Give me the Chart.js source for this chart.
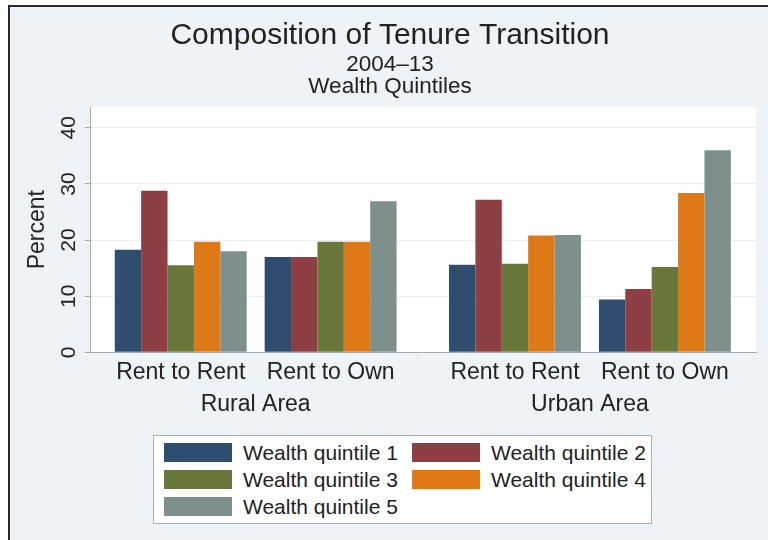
<!DOCTYPE html>
<html lang="en">
<head>
<meta charset="UTF-8">
<title>Composition of Tenure Transition</title>
<script src="https://cdn.jsdelivr.net/npm/chart.js"></script>
<style>
  body { margin: 0; background: #fff; width: 768px; height: 540px; overflow: hidden; position: relative;
         font-family: "Liberation Sans", Arial, sans-serif; }
  #frame { position: absolute; left: 8px; top: 5px; width: 758px; height: 533px;
           border-left: 2px solid #2a2a2a; border-top: 2px solid #2a2a2a; background: #edf3f6; }
  #legend { position: absolute; left: 153px; top: 435px; width: 499px; height: 89px; box-sizing: border-box;
            background: #fff; border: 1px solid #a9b0b3; padding: 7px 0 0 10px;
            display: grid; grid-template-columns: 248px 230px; row-gap: 8px; align-content: start; }
  #legend .item { display: flex; align-items: center; height: 19px; font-size: 21px; color: #222; white-space: nowrap; }
  #legend .swatch { width: 68px; height: 19px; margin-right: 11px; flex: none; }
</style>
</head>
<body>
<div id="frame"><canvas id="tenureChart" width="758" height="533"></canvas></div>
<div id="legend"></div>
<script>
// categories
const transitions = ['Rent to Rent', 'Rent to Own', 'Rent to Rent', 'Rent to Own'];
const areas = ['Rural Area', 'Urban Area'];
const quintiles = ['Wealth quintile 1', 'Wealth quintile 2', 'Wealth quintile 3', 'Wealth quintile 4', 'Wealth quintile 5'];

// percent (rural RR, rural RO, urban RR, urban RO)
const q1 = [18.3, 17.0, 15.6, 9.4];
const q2 = [28.8, 17.0, 27.2, 11.3];
const q3 = [15.5, 19.7, 15.8, 15.2];
const q4 = [19.7, 19.7, 20.8, 28.4];
const q5 = [18.0, 26.9, 20.9, 36.0];
const yTicks = [0, 10, 20, 30, 40];

const colors = ['#2f4d6e', '#8e3f43', '#6a773b', '#dd7a17', '#7e908d'];

// wider gap between the two areas than between the transitions
const areaGap = 0.23;
const xPos = transitions.map((t, i) => i + Math.floor(i / 2) * areaGap);
const areaPos = areas.map((a, k) => (xPos[2 * k] + xPos[2 * k + 1]) / 2);

Chart.defaults.font.family = '"Liberation Sans", Arial, sans-serif';
Chart.defaults.color = '#222';

// white plot region on the light graph background
const plotBg = {
    id: 'plotBg',
    beforeDraw(chart) {
        const { ctx, chartArea: a } = chart;
        ctx.save();
        ctx.fillStyle = '#ffffff';
        ctx.fillRect(a.left, a.top, a.right - a.left, a.bottom - a.top);
        ctx.restore();
    }
};

const series = [q1, q2, q3, q4, q5];
const ctx = document.getElementById('tenureChart').getContext('2d');
const chart = new Chart(ctx, {
    type: 'bar',
    data: {
        datasets: series.map((vals, s) => ({
            label: quintiles[s],
            data: vals.map((v, i) => ({ x: xPos[i], y: v })),
            backgroundColor: colors[s],
            borderWidth: 0,
            categoryPercentage: 0.88,
            barPercentage: 1.0
        }))
    },
    options: {
        responsive: false,
        animation: false,
        layout: { padding: { left: 14, right: 12, top: 0, bottom: 124 } },
        scales: {
            x: {
                type: 'linear', position: 'bottom', min: -0.6, max: 3.838, offset: false, bounds: 'data',
                afterBuildTicks: (scale) => { scale.ticks = xPos.map(v => ({ value: v })); },
                ticks: { autoSkip: false, maxRotation: 0, padding: 7, font: { size: 23 },
                         callback: (v, i) => transitions[i] },
                grid: { display: false, drawTicks: false },
                border: { display: true, color: '#a3abae', width: 1 }
            },
            // second row of labels: the area names, centred under each pair
            area: {
                type: 'linear', position: 'bottom', min: -0.6, max: 3.838, offset: false, bounds: 'data',
                afterBuildTicks: (scale) => { scale.ticks = areaPos.map(v => ({ value: v })); },
                ticks: { autoSkip: false, maxRotation: 0, padding: 0,
                         font: { size: 23, lineHeight: 0.96 }, callback: (v, i) => areas[i] },
                grid: { display: false, drawTicks: false },
                border: { display: false }
            },
            y: {
                min: 0, max: 43.7, bounds: 'data',
                afterBuildTicks: (scale) => { scale.ticks = yTicks.map(v => ({ value: v })); },
                ticks: { minRotation: 90, maxRotation: 90, crossAlign: 'center', padding: 4, font: { size: 21 } },
                grid: { color: '#e8eff2', tickColor: '#a3abae', tickLength: 6 },
                border: { color: '#a3abae', width: 1 },
                title: { display: true, text: 'Percent', font: { size: 23 }, padding: { top: 0, bottom: 0 } }
            }
        },
        plugins: {
            legend: { display: false },
            tooltip: { enabled: false },
            title: {
                display: true, text: 'Composition of Tenure Transition',
                font: { size: 30, weight: 'normal' }, padding: { top: 11, bottom: 0 }
            },
            subtitle: {
                display: true, text: ['2004–13', 'Wealth Quintiles'],
                font: { size: 22.5, lineHeight: 0.98 }, padding: { top: 0, bottom: 9 }
            }
        }
    },
    plugins: [plotBg]
});

// legend in two columns, like the original box
const legendBox = document.getElementById('legend');
chart.data.datasets.forEach(ds => {
    const item = document.createElement('div');
    item.className = 'item';
    const sw = document.createElement('span');
    sw.className = 'swatch';
    sw.style.background = ds.backgroundColor;
    item.appendChild(sw);
    item.appendChild(document.createTextNode(ds.label));
    legendBox.appendChild(item);
});
</script>
</body>
</html>
